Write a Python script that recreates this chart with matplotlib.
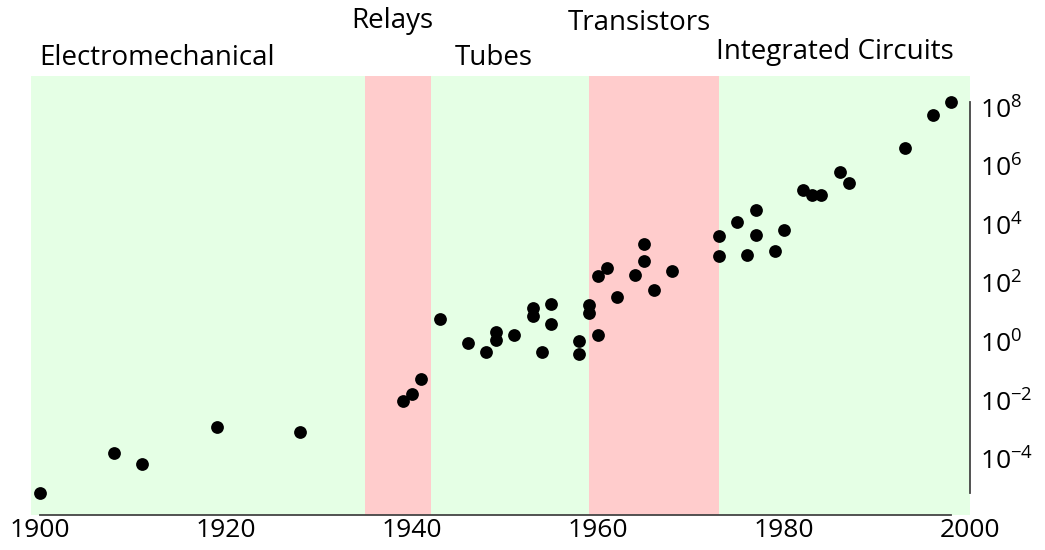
import matplotlib
matplotlib.use("Agg")
import matplotlib.pyplot as plt
import matplotlib.transforms as mtransforms
from matplotlib.ticker import NullLocator

plt.rcParams['font.family'] = ['Open Sans', 'DejaVu Sans']

# ---- data ----
years = [1900, 1908, 1911, 1919, 1928,
         1939, 1940, 1941,
         1943, 1946, 1948, 1949, 1949, 1951, 1953, 1953, 1954, 1955, 1955,
         1958, 1958, 1959, 1959, 1960, 1960, 1961, 1962, 1964, 1965, 1965,
         1966, 1968,
         1973, 1973, 1975, 1976, 1977, 1977, 1979, 1980, 1982, 1983, 1984,
         1986, 1987, 1993, 1996, 1998]
values = [6.9e-6, 1.6e-4, 6.9e-5, 1.3e-3, 8.5e-4,
          1.0e-2, 1.7e-2, 5.5e-2,
          6.3, 0.95, 0.46, 2.2, 1.2, 1.7, 14.5, 7.8, 0.45, 20, 4.3,
          1.1, 0.39, 17.8, 9.5, 1.8, 178, 339, 35.5, 191, 575, 2240,
          60, 257,
          4170, 891, 12600, 933, 32400, 4470, 1320, 6610, 155000, 102000, 102000,
          661000, 275000, 4.17e6, 5.75e7, 1.55e8]

eras = ['Electromechanical', 'Relays', 'Tubes', 'Transistors', 'Integrated Circuits']
era_start = [1899, 1935, 1942, 1959, 1973]
era_end = [1935, 1942, 1959, 1973, 2000]
era_colors = ['#E5FFE5', '#FFCCCC', '#E5FFE5', '#FFCCCC', '#E5FFE5']

xticks = [1900, 1920, 1940, 1960, 1980, 2000]
yticks = [1e-4, 1e-2, 1e0, 1e2, 1e4, 1e6, 1e8]

# ---- layout ----
W, H = 1045, 550
label_x = [1899.9, 1933.5, 1944.6, 1956.7, 1972.7]
label_base_px = [65, 28, 65, 30.5, 59.5]

fig = plt.figure(figsize=(W / 100, H / 100), dpi=100)
ax = fig.add_axes([30.7 / W, 1 - 515 / H, 939.3 / W, 439.3 / H])

for s, e, c in zip(era_start, era_end, era_colors):
    ax.axvspan(s, e, color=c, lw=0, zorder=0)

ax.plot(years, values, 'o', color='black', ms=9.2, mew=0, zorder=3, clip_on=False)

ax.set_yscale('log')
ax.set_xlim(1899, 2000)
ax.set_ylim(10 ** -5.90, 10 ** 9.09)
ax.set_xticks(xticks)
ax.set_yticks(yticks)
ax.yaxis.set_minor_locator(NullLocator())
ax.yaxis.tick_right()

for side in ['left', 'top']:
    ax.spines[side].set_visible(False)
ax.spines['bottom'].set_bounds(min(years), max(years))
ax.spines['right'].set_bounds(min(values), max(values))
for side in ['bottom', 'right']:
    ax.spines[side].set_color('#444444')
    ax.spines[side].set_linewidth(1.3)

ax.tick_params(axis='x', length=0, labelsize=19, pad=2)
ax.tick_params(axis='y', length=0, labelsize=19, pad=7)

trans = mtransforms.blended_transform_factory(ax.transData, fig.transFigure)
for name, x, ypx in zip(eras, label_x, label_base_px):
    ax.text(x, 1 - ypx / H, name, transform=trans, ha='left', va='baseline',
            fontsize=20, color='black', clip_on=False)

fig.savefig('out.png', dpi=100)
